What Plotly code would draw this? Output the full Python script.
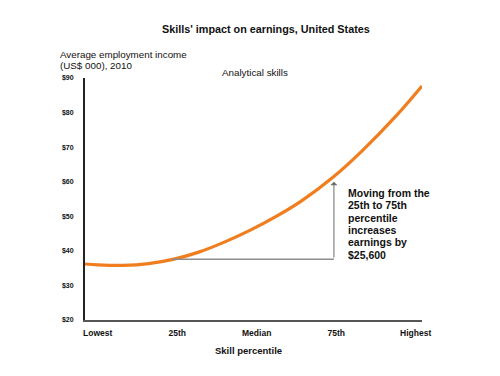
import plotly.graph_objects as go

# Data
percentile = [-4, 0, 8, 16, 24, 32, 40, 48, 56, 64, 74, 83, 94, 102]
income = [36.2, 35.95, 35.8, 36.3, 37.6, 39.7, 42.6, 46.0, 49.9, 54.4, 61.3, 68.8, 79.2, 87.7]

tick_pos = [0, 25, 50, 75, 100]
tick_text = ["Lowest", "25th", "Median", "75th", "Highest"]
y_ticks = [20, 30, 40, 50, 60, 70, 80, 90]
y_tick_text = ["$" + str(v) for v in y_ticks]

base_level = 37.6
arrow_top = 60.0
arrow_x = 74.3
start_x = 23.5

note_lines = ["Moving from the", "25th to 75th", "percentile", "increases",
              "earnings by", "$25,600"]
ytitle_lines = ["Average employment income", "(US$ 000), 2010"]

FONT = "Liberation Sans, Arial, sans-serif"
W, H = 500, 376
l, r, t, b = 85, 78, 78, 56
pw, ph = W - l - r, H - t - b
def px(x): return (x - l) / pw
def py(y): return (H - b - y) / ph

fig = go.Figure()
fig.add_trace(go.Scatter(
    x=percentile, y=income, mode="lines",
    line=dict(color="#F07D1E", width=3.2, shape="spline", smoothing=1.0),
    hoverinfo="skip", showlegend=False,
))

fig.add_shape(type="line", xref="x", yref="y", x0=start_x, x1=arrow_x,
              y0=base_level, y1=base_level, line=dict(color="#8C8C8C", width=1.5))

fig.add_annotation(x=arrow_x, y=arrow_top, ax=arrow_x, ay=base_level,
                   xref="x", yref="y", axref="x", ayref="y",
                   text="", showarrow=True, arrowhead=1, arrowsize=1.2,
                   arrowwidth=1, arrowcolor="#6E6E6E")

for i, line in enumerate(note_lines):
    fig.add_annotation(x=px(346), y=py(193 + i * 12.3), xref="paper", yref="paper",
                       xanchor="left", yanchor="middle", showarrow=False, text=line,
                       font=dict(family=FONT, size=10.5, color="#111111", weight="bold"))

fig.add_annotation(x=px(266), y=py(29), xref="paper", yref="paper",
                   xanchor="center", yanchor="middle", showarrow=False,
                   text="Skills' impact on earnings, United States",
                   font=dict(family=FONT, size=10.8, color="#111111", weight="bold"))

for i, line in enumerate(ytitle_lines):
    fig.add_annotation(x=px(58), y=py(54 + i * 11), xref="paper", yref="paper",
                       xanchor="left", yanchor="middle", showarrow=False, text=line,
                       font=dict(family=FONT, size=9.8, color="#111111"))

fig.add_annotation(x=px(255), y=py(72), xref="paper", yref="paper",
                   xanchor="center", yanchor="middle", showarrow=False,
                   text="Analytical skills",
                   font=dict(family=FONT, size=9.8, color="#111111"))

fig.add_annotation(x=px(248), y=py(350), xref="paper", yref="paper",
                   xanchor="center", yanchor="middle", showarrow=False,
                   text="Skill percentile",
                   font=dict(family=FONT, size=9.5, color="#111111", weight="bold"))

fig.update_layout(
    width=W, height=H,
    margin=dict(l=l, r=r, t=t, b=b),
    paper_bgcolor="white", plot_bgcolor="white",
    font=dict(family=FONT, color="#111111"),
    xaxis=dict(range=[-4, 102], tickvals=tick_pos, ticktext=tick_text,
               showgrid=False, zeroline=False, showline=True,
               linecolor="#555555", linewidth=2, ticks="",
               tickfont=dict(size=8.5, weight="bold"), ticklabelstandoff=4),
    yaxis=dict(range=[20, 90], tickvals=y_ticks, ticktext=y_tick_text,
               showgrid=False, zeroline=False, showline=True,
               linecolor="#222222", linewidth=2, ticks="",
               tickfont=dict(size=7, weight="bold"), ticklabelstandoff=8),
)

fig.write_html("out.html", config={"displayModeBar": False},
               post_script="document.body.style.margin='0';")
